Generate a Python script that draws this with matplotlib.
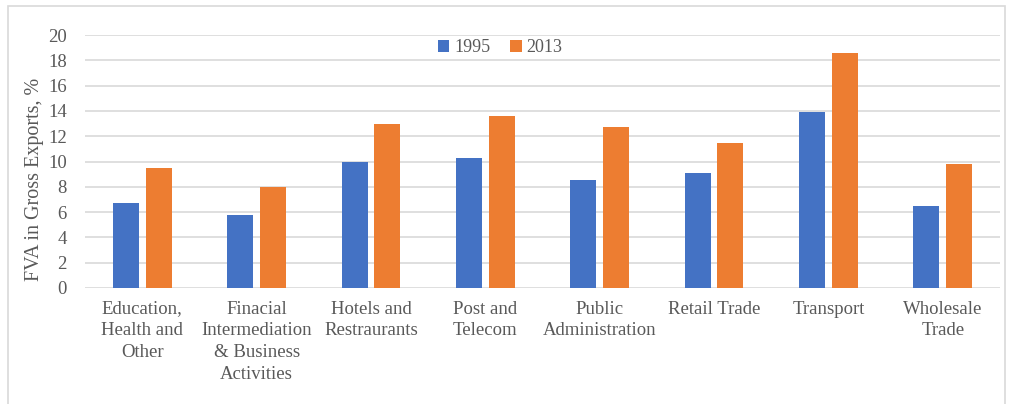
import matplotlib.pyplot as plt
import matplotlib.patches as patches
import numpy as np

# sectors and FVA share values (%)
sectors = ["Education,\nHealth and\nOther",
           "Finacial\nIntermediation\n& Business\nActivities",
           "Hotels and\nRestraurants",
           "Post and\nTelecom",
           "Public\nAdministration",
           "Retail Trade",
           "Transport",
           "Wholesale\nTrade"]
fva_1995 = [6.7, 5.8, 10.0, 10.3, 8.5, 9.1, 13.9, 6.5]
fva_2013 = [9.5, 8.0, 13.0, 13.6, 12.7, 11.5, 18.6, 9.8]
years = ["1995", "2013"]

blue = "#4472C4"
orange = "#ED7D31"
grey_text = "#595959"

plt.rcParams['font.family'] = ['Liberation Serif', 'DejaVu Serif']

fig = plt.figure(figsize=(10.09, 4.04), dpi=100)
ax = fig.add_axes([85 / 1009, 1 - 288 / 404, 915 / 1009, 253 / 404])

x = np.arange(len(sectors))
w = 0.227
gap = 0.03
ax.bar(x - w / 2 - gap, fva_1995, w, color=blue, label=years[0], zorder=3)
ax.bar(x + w / 2 + gap, fva_2013, w, color=orange, label=years[1], zorder=3)

ax.set_xlim(-0.5, len(sectors) - 0.5)
ax.set_ylim(0, 20)
ax.set_yticks(range(0, 21, 2))
ax.yaxis.grid(True, color="#D9D9D9", linewidth=1.2, zorder=0)
ax.set_xticks(x)
ax.set_xticklabels(sectors, fontsize=13.5, color=grey_text, linespacing=1.38)
ax.tick_params(axis='x', length=0, pad=9)
ax.tick_params(axis='y', length=0, pad=13, labelsize=13.5, labelcolor=grey_text)
for s in ax.spines.values():
    s.set_visible(False)

ax.set_ylabel("FVA in Gross Exports, %", fontsize=14.5, color=grey_text)
ax.yaxis.set_label_coords(-0.045, 0.43)

fig.legend(loc='center', bbox_to_anchor=(500 / 1009, 1 - 48 / 404), ncol=2,
           frameon=False, fontsize=13, handlelength=0.65, handleheight=0.65,
           handletextpad=0.25, columnspacing=1.1, labelcolor=grey_text)

# light frame round the chart
fig.patches.append(patches.Rectangle((8 / 1009, -0.05), 997 / 1009, 1 - 6 / 404 + 0.05,
                                     transform=fig.transFigure, fill=False,
                                     edgecolor="#D9D9D9", linewidth=1.2))

fig.savefig("out.png", dpi=100)
